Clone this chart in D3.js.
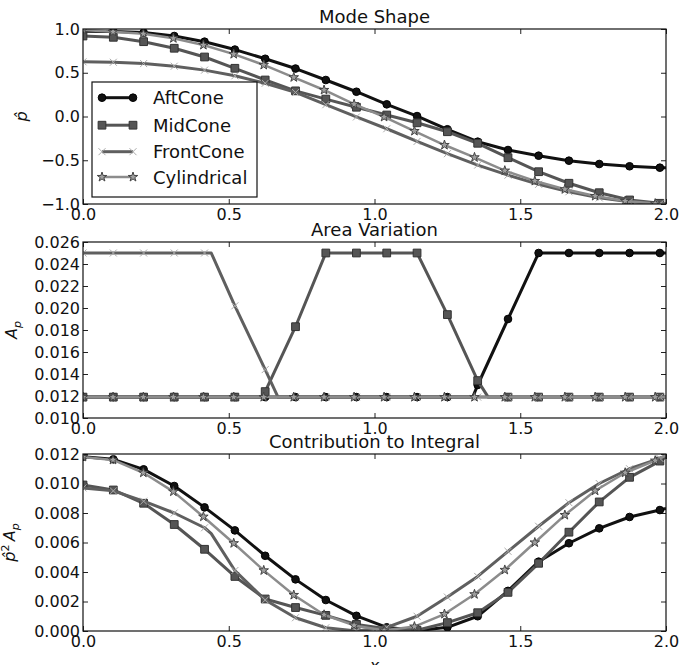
<!DOCTYPE html>
<html>
<head>
<meta charset="utf-8">
<script src="https://cdn.jsdelivr.net/npm/d3@7"></script>
<style>
  body { margin: 0; background: #fff; }
  text { font-family: "DejaVu Sans", sans-serif; fill: #111; }
</style>
</head>
<body>
<svg id="chart" width="680" height="665"></svg>
<script>
// x positions of the markers (every 5th sample)
const markX = [0, 0.104, 0.208, 0.313, 0.417, 0.521, 0.625, 0.729, 0.833, 0.938,
               1.042, 1.146, 1.25, 1.354, 1.458, 1.563, 1.667, 1.771, 1.875, 1.979];
const cylX  = [0, 0.103, 0.207, 0.31, 0.413, 0.517, 0.62, 0.723, 0.827, 0.93,
               1.033, 1.137, 1.24, 1.343, 1.447, 1.55, 1.653, 1.757, 1.86, 1.963];

const seriesNames = ["AftCone", "MidCone", "FrontCone", "Cylindrical"];

// Mode Shape
const aftMode   = [0.975, 0.972, 0.96, 0.92, 0.855, 0.765, 0.66, 0.548, 0.417, 0.283,
                   0.139, 0.005, -0.146, -0.288, -0.383, -0.448, -0.505, -0.543, -0.569, -0.585];
const midMode   = [0.92, 0.905, 0.855, 0.78, 0.68, 0.551, 0.417, 0.293, 0.199, 0.106,
                   0.017, -0.072, -0.174, -0.306, -0.471, -0.631, -0.763, -0.871, -0.954, -0.992];
const frontMode = [0.625, 0.62, 0.605, 0.575, 0.53, 0.465, 0.38, 0.275, 0.135, -0.005,
                   -0.14, -0.285, -0.425, -0.555, -0.67, -0.775, -0.86, -0.93, -0.975, -0.998];
const cylMode   = [0.99, 0.968, 0.945, 0.894, 0.817, 0.713, 0.589, 0.448, 0.303, 0.141,
                   -0.005, -0.166, -0.326, -0.467, -0.619, -0.737, -0.832, -0.909, -0.966, -0.995];
const modeEnd = [-0.587, -1.0, -1.0, -1.0];

// Area Variation
const aftArea   = [0.0119, 0.0119, 0.0119, 0.0119, 0.0119, 0.0119, 0.0119, 0.0119, 0.0119, 0.0119,
                   0.0119, 0.0119, 0.0119, 0.0130, 0.0190, 0.025, 0.025, 0.025, 0.025, 0.025];
const midArea   = [0.0119, 0.0119, 0.0119, 0.0119, 0.0119, 0.0119, 0.0124, 0.0183, 0.025, 0.025,
                   0.025, 0.025, 0.0194, 0.0134, 0.0119, 0.0119, 0.0119, 0.0119, 0.0119, 0.0119];
const frontArea = [0.025, 0.025, 0.025, 0.025, 0.025, 0.0202, 0.0144, 0.0119, 0.0119, 0.0119,
                   0.0119, 0.0119, 0.0119, 0.0119, 0.0119, 0.0119, 0.0119, 0.0119, 0.0119, 0.0119];
const cylArea   = [0.0119, 0.0119, 0.0119, 0.0119, 0.0119, 0.0119, 0.0119, 0.0119, 0.0119, 0.0119,
                   0.0119, 0.0119, 0.0119, 0.0119, 0.0119, 0.0119, 0.0119, 0.0119, 0.0119, 0.0119];
const areaEnd = [0.025, 0.0119, 0.0119, 0.0119];
// corners of the area profiles that fall between markers
const aftAreaKnots   = [[1.337, 0.0119]];
const midAreaKnots   = [[0.615, 0.0119], [1.39, 0.0119]];
const frontAreaKnots = [[0.44, 0.025], [0.669, 0.0119]];

// Contribution to Integral
const aftContrib   = [0.01182, 0.01164, 0.01096, 0.00983, 0.00838, 0.00682, 0.0051, 0.0035, 0.0021, 0.00103,
                      0.00025, 0.00002, 0.00025, 0.001, 0.00272, 0.0047, 0.00595, 0.00696, 0.00773, 0.0082];
const midContrib   = [0.0099, 0.00956, 0.00866, 0.00722, 0.00554, 0.0037, 0.00217, 0.00159, 0.00106, 0.00045,
                      0.00015, 0.00005, 0.00057, 0.00124, 0.00262, 0.00459, 0.0067, 0.00875, 0.01042, 0.01152];
const frontContrib = [0.0097, 0.0095, 0.0088, 0.008, 0.007, 0.0041, 0.0021, 0.0009, 0.00022, 0.0,
                      0.00025, 0.001, 0.0023, 0.0037, 0.0054, 0.0071, 0.0087, 0.01, 0.011, 0.0117];
const cylContrib   = [0.0118, 0.0116, 0.01073, 0.00945, 0.00775, 0.00595, 0.00411, 0.00244, 0.0011, 0.00038,
                      0.00003, 0.0003, 0.00115, 0.00249, 0.00414, 0.006, 0.00786, 0.00951, 0.01073, 0.01155];
const contribEnd = [0.0083, 0.0118, 0.0119, 0.0119];
const frontContribKnots = [[0.44, 0.0066]];

const xTicks = [0, 0.5, 1.0, 1.5, 2.0];
const modeTicks = [-1.0, -0.5, 0.0, 0.5, 1.0];
const areaTicks = [0.010, 0.012, 0.014, 0.016, 0.018, 0.020, 0.022, 0.024, 0.026];
const contribTicks = [0.000, 0.002, 0.004, 0.006, 0.008, 0.010, 0.012];

// line / marker styles
const styles = {
  AftCone:     { color: "#111", width: 3,   marker: "circle", fill: "#111", edge: "#000" },
  MidCone:     { color: "#555", width: 3,   marker: "square", fill: "#555", edge: "#333" },
  FrontCone:   { color: "#5f5f5f", width: 3, marker: "x",     fill: "none", edge: "#aaa" },
  Cylindrical: { color: "#8c8c8c", width: 2.5, marker: "star", fill: "#a0a0a0", edge: "#444" }
};

const svg = d3.select("#chart");
const left = 83, right = 666;
const x = d3.scaleLinear().domain([0, 2]).range([left, right]);

function markerPath(kind) {
  if (kind === "circle") return d3.symbol(d3.symbolCircle, 46)();
  if (kind === "square") return d3.symbol(d3.symbolSquare, 60)();
  if (kind === "star") return d3.symbol(d3.symbolStar, 28)();
  return "M-3.5,-3.5L3.5,3.5M-3.5,3.5L3.5,-3.5";
}

function buildLine(xs, ys, knots, endY) {
  const pts = xs.map((v, i) => [v, ys[i]]).concat(knots || []);
  pts.push([2.0, endY]);
  return pts.sort((a, b) => a[0] - b[0]);
}

const panels = [
  { title: "Mode Shape", top: 29, bottom: 204, domain: [-1, 1], ticks: modeTicks, fmt: d3.format(".1f"),
    values: [aftMode, midMode, frontMode, cylMode], ends: modeEnd, knots: [[], [], [], []],
    label: "mode", labelX: 27 },
  { title: "Area Variation", top: 242, bottom: 418, domain: [0.010, 0.026], ticks: areaTicks, fmt: d3.format(".3f"),
    values: [aftArea, midArea, frontArea, cylArea], ends: areaEnd, knots: [aftAreaKnots, midAreaKnots, frontAreaKnots, []],
    label: "area", labelX: 17 },
  { title: "Contribution to Integral", top: 454, bottom: 631, domain: [0, 0.012], ticks: contribTicks, fmt: d3.format(".3f"),
    values: [aftContrib, midContrib, frontContrib, cylContrib], ends: contribEnd, knots: [[], [], frontContribKnots, []],
    label: "contrib", labelX: 15 }
];

panels.forEach((p, pi) => {
  const y = d3.scaleLinear().domain(p.domain).range([p.bottom, p.top]);
  const g = svg.append("g");

  const clipId = "clip" + pi;
  svg.append("clipPath").attr("id", clipId)
    .append("rect")
      .attr("x", left).attr("y", p.top)
      .attr("width", right - left).attr("height", p.bottom - p.top);

  // axes: ticks inward on all four sides
  const bottomAx = g.append("g")
    .attr("transform", `translate(0,${p.bottom})`)
    .call(d3.axisBottom(x).tickValues(xTicks).tickFormat(d3.format(".1f")).tickSize(-5).tickPadding(5));
  const topAx = g.append("g")
    .attr("transform", `translate(0,${p.top})`)
    .call(d3.axisTop(x).tickValues(xTicks).tickFormat("").tickSize(-5));
  const leftAx = g.append("g")
    .attr("transform", `translate(${left},0)`)
    .call(d3.axisLeft(y).tickValues(p.ticks).tickFormat(p.fmt).tickSize(-5).tickPadding(3));
  const rightAx = g.append("g")
    .attr("transform", `translate(${right},0)`)
    .call(d3.axisRight(y).tickValues(p.ticks).tickFormat("").tickSize(-5));
  [bottomAx, topAx, leftAx, rightAx].forEach(ax => {
    ax.select(".domain").remove();
    ax.selectAll("line").attr("stroke", "#222");
    ax.selectAll("text").attr("font-size", 16).attr("font-family", "DejaVu Sans").attr("fill", "#111");
  });

  // title
  g.append("text")
    .attr("x", (left + right) / 2).attr("y", p.top - 6.5)
    .attr("text-anchor", "middle").attr("font-size", 18)
    .text(p.title);

  // series
  const plot = g.append("g").attr("clip-path", `url(#${clipId})`);
  const line = d3.line().x(d => x(d[0])).y(d => y(d[1]));
  seriesNames.forEach((name, si) => {
    const st = styles[name];
    const xs = name === "Cylindrical" ? cylX : markX;
    const vals = p.values[si];
    plot.append("path")
      .attr("d", line(buildLine(xs, vals, p.knots[si], p.ends[si])))
      .attr("fill", "none")
      .attr("stroke", st.color)
      .attr("stroke-width", st.width)
      .attr("stroke-linejoin", "round");
    plot.selectAll(null)
      .data(xs.map((v, i) => [v, vals[i]]))
      .enter().append("path")
        .attr("transform", d => `translate(${x(d[0])},${y(d[1])})`)
        .attr("d", markerPath(st.marker))
        .attr("fill", st.fill)
        .attr("stroke", st.edge)
        .attr("stroke-width", 1);
  });

  // frame
  g.append("rect")
    .attr("x", left).attr("y", p.top)
    .attr("width", right - left).attr("height", p.bottom - p.top)
    .attr("fill", "none").attr("stroke", "#111").attr("stroke-width", 1.2);

  // y label
  const cy = (p.top + p.bottom) / 2;
  const lab = g.append("text")
    .attr("transform", `translate(${p.labelX},${cy}) rotate(-90)`)
    .attr("text-anchor", "middle")
    .attr("font-family", "DejaVu Serif")
    .attr("font-style", "italic")
    .attr("font-size", 16);
  if (p.label === "mode") {
    lab.text("p\u0302");
  } else if (p.label === "area") {
    lab.append("tspan").text("A");
    lab.append("tspan").attr("font-size", 11).attr("dy", 4).text("p");
  } else {
    lab.append("tspan").text("p\u0302");
    lab.append("tspan").attr("font-size", 11).attr("dy", -6).attr("font-style", "normal").text("2");
    lab.append("tspan").attr("dy", 6).text("\u2009A");
    lab.append("tspan").attr("font-size", 11).attr("dy", 4).text("p");
  }

  // legend in the first panel
  if (pi === 0) {
    const lg = g.append("g");
    lg.append("rect")
      .attr("x", 92).attr("y", 82).attr("width", 165).attr("height", 115)
      .attr("fill", "#fff").attr("stroke", "#111").attr("stroke-width", 1.2);
    const rowY = [97.7, 125.2, 151.7, 177];
    seriesNames.forEach((name, si) => {
      const st = styles[name];
      lg.append("line")
        .attr("x1", 102).attr("x2", 133).attr("y1", rowY[si]).attr("y2", rowY[si])
        .attr("stroke", st.color).attr("stroke-width", st.width);
      [102, 133].forEach(mx => {
        lg.append("path")
          .attr("transform", `translate(${mx},${rowY[si]})`)
          .attr("d", markerPath(st.marker))
          .attr("fill", st.fill).attr("stroke", st.edge).attr("stroke-width", 1);
      });
      lg.append("text")
        .attr("x", 153).attr("y", rowY[si] + 6.5)
        .attr("font-size", 18)
        .text(name);
    });
  }
});

// x label (mostly below the visible area, as in the figure)
svg.append("text")
  .attr("x", (left + right) / 2).attr("y", 671)
  .attr("text-anchor", "middle")
  .attr("font-family", "DejaVu Serif").attr("font-style", "italic")
  .attr("font-size", 16)
  .text("x");
</script>
</body>
</html>
